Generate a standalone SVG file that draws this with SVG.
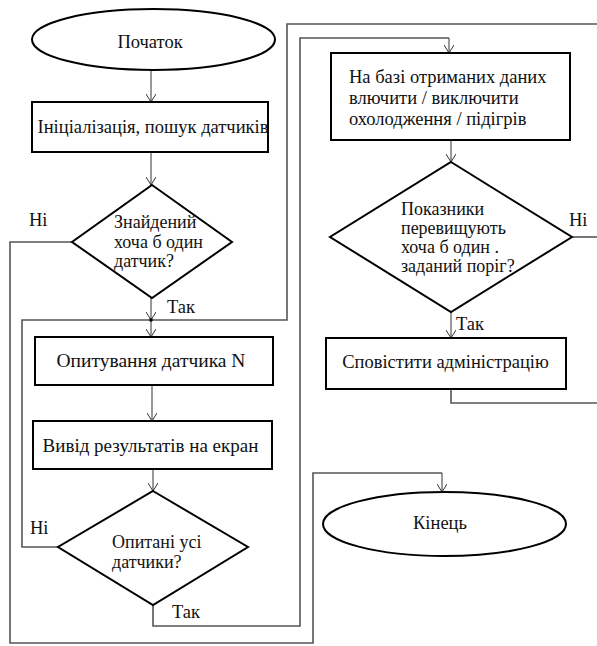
<svg xmlns="http://www.w3.org/2000/svg" width="597" height="646" viewBox="0 0 597 646">
<style>
.shape{fill:#fff;stroke:#000;stroke-width:2}
.t{font-family:'Liberation Serif','DejaVu Serif',serif;font-size:18.5px;fill:#111}
.d{font-size:18px}
.c{text-anchor:middle}
.loop{fill:none;stroke:#555;stroke-width:1.6}
.arr{fill:none;stroke:#333;stroke-width:1;marker-end:url(#ah)}
</style>
<defs>
<marker id="ah" viewBox="0 0 8 10" refX="8" refY="5" markerWidth="8" markerHeight="10" markerUnits="userSpaceOnUse" orient="auto">
<path d="M0,0 L8,5 L0,10" fill="none" stroke="#333" stroke-width="1"/>
</marker>
</defs>
<rect width="597" height="646" fill="#fff"/>
<g id="connectors">
<path class="loop" d="M597,24 H287 V320 H22 V547 H58"/>
<path class="loop" d="M153,605 V626 H300 V38 H449"/>
<path class="arr" d="M449,38 V53"/>
<path class="loop" d="M72,242 H10 V643 H313 V473 H442"/>
<path class="arr" d="M442,473 V492"/>
<path class="loop" d="M451,389 V403 H597"/>
<path class="loop" d="M572,237 H597"/>
<path class="arr" d="M151,70 V102"/>
<path class="arr" d="M151,152 V185"/>
<path class="arr" d="M151,298 V320"/>
<path class="arr" d="M151,320 V337"/>
<circle cx="151" cy="320" r="1.8" fill="#000"/>
<path class="arr" d="M152,385 V421"/>
<path class="arr" d="M153,469 V491"/>
<path class="arr" d="M451,140 V162"/>
<path class="arr" d="M451,312 V338"/>
<text class="t" x="29" y="226">Ні</text>
<text class="t" x="167" y="313">Так</text>
<text class="t" x="30" y="534">Ні</text>
<text class="t" x="172" y="618">Так</text>
<text class="t" x="569" y="226">Ні</text>
<text class="t" x="456" y="330">Так</text>
</g>
<g id="start">
<ellipse class="shape" cx="153.5" cy="39.5" rx="121.5" ry="30.5"/>
<text class="t c" x="150" y="48">Початок</text>
</g>
<g id="init">
<rect class="shape" x="32" y="102" width="236" height="50"/>
<text class="t c" x="153" y="133">Ініціалізація, пошук датчиків</text>
</g>
<g id="found">
<polygon class="shape" points="152,185 232,242 152,298 72,242"/>
<text class="t d" x="114" y="228">Знайдений</text>
<text class="t d" x="114" y="248">хоча б один</text>
<text class="t d" x="114" y="267">датчик?</text>
</g>
<g id="poll">
<rect class="shape" x="35" y="337" width="238" height="48"/>
<text class="t c" x="151" y="367" style="font-size:19.5px">Опитування датчика N</text>
</g>
<g id="output">
<rect class="shape" x="33" y="421" width="239" height="48"/>
<text class="t c" x="150.5" y="452" style="font-size:19px">Вивід результатів на екран</text>
</g>
<g id="allpolled">
<polygon class="shape" points="153,491 248,547 153,605 58,547"/>
<text class="t d" x="112" y="548">Опитані усі</text>
<text class="t d" x="112" y="568">датчики?</text>
</g>
<g id="control">
<rect class="shape" x="331" y="53" width="239" height="87"/>
<text class="t" x="349" y="83">На базі отриманих даних</text>
<text class="t" x="349" y="104">влючити / виключити</text>
<text class="t" x="349" y="125">охолодження / підігрів</text>
</g>
<g id="threshold">
<polygon class="shape" points="451,162 572,237 451,312 330,237"/>
<text class="t d" x="401" y="215">Показники</text>
<text class="t d" x="401" y="234">перевищують</text>
<text class="t d" x="401" y="253">хоча б один .</text>
<text class="t d" x="401" y="272">заданий поріг?</text>
</g>
<g id="notify">
<rect class="shape" x="326" y="338" width="240" height="51"/>
<text class="t c" x="445.5" y="368">Сповістити адміністрацію</text>
</g>
<g id="end">
<ellipse class="shape" cx="444.5" cy="524" rx="121.5" ry="32"/>
<text class="t c" x="440" y="529">Кінець</text>
</g>
</svg>
